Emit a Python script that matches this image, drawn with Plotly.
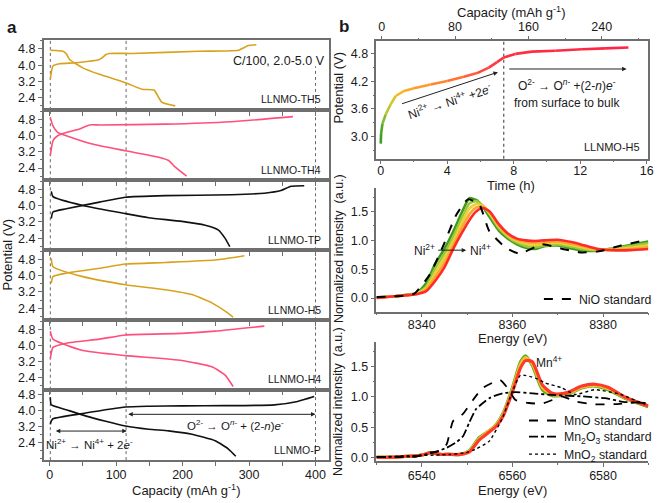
import plotly.graph_objects as go

# ---------------- Panel a : charge / discharge profiles ----------------
samples = ["LLNMO-TH5", "LLNMO-TH4", "LLNMO-TP", "LLNMO-H5", "LLNMO-H4", "LLNMO-P"]
sample_colors = ["#D9A21E", "#FF4F7B", "#111111", "#D9A21E", "#FF4F7B", "#111111"]

th5_chg_cap = [1, 5, 15, 40, 75, 85, 90, 124, 224, 284, 299, 311]
th5_chg_v = [3.31, 3.96, 4.07, 4.12, 4.28, 4.53, 4.58, 4.58, 4.69, 4.74, 4.97, 5.01]
th5_dis_cap = [1, 20, 25, 30, 50, 75, 114, 139, 157, 164, 169, 189]
th5_dis_v = [4.74, 4.69, 4.56, 4.28, 3.87, 3.55, 3.14, 2.82, 2.78, 2.41, 2.17, 2.0]

th4_chg_cap = [1, 5, 12, 25, 44, 60, 75, 174, 273, 366]
th4_chg_v = [3.01, 3.74, 3.99, 4.15, 4.31, 4.52, 4.52, 4.56, 4.68, 4.93]
th4_dis_cap = [1, 5, 12, 25, 64, 114, 164, 179, 189, 206]
th4_dis_v = [4.88, 4.47, 4.15, 3.99, 3.58, 3.25, 2.93, 2.77, 2.44, 2.0]

tp_chg_cap = [2.5, 5, 25, 75, 114, 174, 273, 323, 348, 363, 383]
tp_chg_v = [3.37, 3.69, 3.85, 4.18, 4.42, 4.50, 4.54, 4.62, 4.75, 4.96, 4.99]
tp_dis_cap = [2.5, 5, 50, 114, 149, 199, 234, 254, 264, 271]
tp_dis_v = [4.71, 4.45, 4.01, 3.61, 3.41, 3.23, 3.04, 2.80, 2.39, 1.98]

h5_chg_cap = [2.5, 5, 25, 75, 114, 174, 249, 293]
h5_chg_v = [3.64, 3.96, 4.13, 4.37, 4.58, 4.66, 4.78, 4.99]
h5_dis_cap = [2.5, 5, 50, 114, 174, 214, 244, 264, 276]
h5_dis_v = [4.86, 4.45, 3.96, 3.56, 3.31, 3.07, 2.66, 2.25, 1.96]

h4_chg_cap = [1, 5, 25, 75, 114, 199, 249, 323]
h4_chg_v = [3.34, 3.91, 4.12, 4.32, 4.53, 4.61, 4.72, 4.97]
h4_dis_cap = [1, 5, 50, 114, 199, 244, 264, 276]
h4_dis_v = [4.72, 4.32, 3.75, 3.50, 3.26, 2.94, 2.53, 1.96]

p_chg_cap = [1, 2.5, 5, 50, 114, 149, 200, 264, 338, 373, 398]
p_chg_v = [3.30, 3.47, 3.58, 3.84, 4.16, 4.20, 4.22, 4.23, 4.27, 4.44, 4.68]
p_dis_cap = [1, 2.5, 25, 55, 114, 149, 179, 214, 249, 269, 280]
p_dis_v = [4.65, 4.27, 4.03, 3.71, 3.22, 3.06, 2.98, 2.81, 2.49, 2.08, 1.72]

charge_caps = [th5_chg_cap, th4_chg_cap, tp_chg_cap, h5_chg_cap, h4_chg_cap, p_chg_cap]
charge_vs = [th5_chg_v, th4_chg_v, tp_chg_v, h5_chg_v, h4_chg_v, p_chg_v]
dis_caps = [th5_dis_cap, th4_dis_cap, tp_dis_cap, h5_dis_cap, h4_dis_cap, p_dis_cap]
dis_vs = [th5_dis_v, th4_dis_v, tp_dis_v, h5_dis_v, h4_dis_v, p_dis_v]

boundary_caps = [1, 115, 400]
cap_ticks = [0, 50, 100, 150, 200, 250, 300, 350, 400]
cap_ticktext = ["0", "", "100", "", "200", "", "300", "", "400"]
pot_ticks = [2.4, 3.2, 4.0, 4.8]
pot_ticktext = ["2.4", "3.2", "4.0", "4.8"]

# ---------------- Panel b top : charge curve of LLNMO-H5 ----------------
h5_time = [0, 0.02, 0.1, 0.3, 0.6, 0.9, 1.4, 2.0, 3.0, 4.0, 5.0, 5.8, 6.5, 7.0, 7.4, 8.1, 9.1, 10.5, 12.1, 13.5, 14.9]
h5_pot = [2.84, 3.05, 3.27, 3.48, 3.70, 3.88, 3.99, 4.05, 4.13, 4.21, 4.30, 4.38, 4.50, 4.62, 4.72, 4.80, 4.85, 4.87, 4.90, 4.92, 4.94]
ni_boundary_time = 7.4
time_ticks = [0, 4, 8, 12, 16]
topcap_ticks = [0, 80, 160, 240]
pot_b_ticks = [3.0, 3.6, 4.2, 4.8]

# ---------------- Panel b middle : Ni K-edge ----------------
ni_e = [8330, 8334, 8337, 8339, 8341, 8343, 8345, 8347, 8349, 8350.5, 8352, 8353.5, 8355,
        8357, 8359, 8361, 8363, 8365, 8367, 8370, 8373, 8376, 8379, 8382, 8386, 8390]
ni_green = [0.01, 0.03, 0.06, 0.09, 0.26, 0.60, 0.85, 1.16, 1.51, 1.73, 1.70, 1.58, 1.40,
            1.17, 1.03, 0.93, 0.87, 0.85, 0.90, 0.91, 0.86, 0.82, 0.82, 0.86, 0.92, 0.98]
ni_ygreen = [0.01, 0.03, 0.06, 0.08, 0.20, 0.52, 0.77, 1.07, 1.42, 1.64, 1.68, 1.60, 1.45,
             1.21, 1.06, 0.96, 0.90, 0.88, 0.91, 0.93, 0.89, 0.84, 0.83, 0.85, 0.90, 0.95]
ni_yellow = [0.00, 0.03, 0.05, 0.08, 0.17, 0.44, 0.69, 0.99, 1.33, 1.55, 1.63, 1.60, 1.47,
             1.24, 1.08, 0.99, 0.94, 0.92, 0.94, 0.96, 0.92, 0.87, 0.84, 0.84, 0.87, 0.91]
ni_orange = [0.00, 0.03, 0.05, 0.07, 0.15, 0.37, 0.61, 0.92, 1.24, 1.45, 1.57, 1.58, 1.49,
             1.26, 1.10, 1.01, 0.97, 0.96, 0.97, 0.98, 0.94, 0.89, 0.84, 0.83, 0.85, 0.88]
ni_red = [0.00, 0.03, 0.05, 0.07, 0.12, 0.30, 0.53, 0.86, 1.15, 1.35, 1.50, 1.56, 1.50,
          1.28, 1.12, 1.03, 1.00, 0.99, 1.00, 1.01, 0.97, 0.91, 0.85, 0.83, 0.83, 0.85]
nio_e = [8330, 8334, 8338.2, 8341.8, 8344.7, 8347.6, 8350.2, 8352.7, 8354.9, 8358.6, 8361.5,
         8366.6, 8371.7, 8375.3, 8379, 8384, 8389.8]
nio_v = [0.02, 0.03, 0.07, 0.41, 0.90, 1.44, 1.71, 1.62, 1.16, 0.87, 0.77, 0.93, 0.84, 0.79,
         0.81, 0.91, 1.01]
ni_xticks = [8340, 8360, 8380]
norm_ticks = [0.0, 0.5, 1.0, 1.5]

# ---------------- Panel b bottom : Mn K-edge ----------------
mn_e = [6530, 6535, 6540, 6542, 6544, 6546, 6548.5, 6550.5, 6552.7, 6554.9, 6556.5, 6558, 6560,
        6561.8, 6562.9, 6564.4, 6566.6, 6568.8, 6570.5, 6572.4, 6575.3, 6578.2, 6581.1, 6584.8, 6590]
mn_green = [0, 0.01, 0.04, 0.08, 0.05, 0.05, 0.05, 0.11, 0.33, 0.44, 0.55, 0.74, 1.15, 1.58, 1.68,
            1.52, 1.12, 1.02, 1.02, 1.05, 1.15, 1.18, 1.12, 0.98, 0.84]
mn_yellow = [0, 0.01, 0.04, 0.08, 0.05, 0.05, 0.05, 0.10, 0.31, 0.44, 0.54, 0.72, 1.12, 1.54, 1.65,
             1.55, 1.16, 1.04, 1.03, 1.06, 1.16, 1.19, 1.14, 0.99, 0.85]
mn_red = [0, 0.01, 0.04, 0.08, 0.05, 0.05, 0.05, 0.09, 0.29, 0.42, 0.52, 0.69, 1.08, 1.48, 1.60,
          1.58, 1.20, 1.06, 1.05, 1.08, 1.18, 1.21, 1.16, 1.00, 0.85]
mno_e = [6530, 6538.9, 6541.8, 6544, 6545.5, 6546.9, 6549.1, 6551.3, 6553.5, 6557.3, 6558.9,
         6560.7, 6563.6, 6566.6, 6568.8, 6570.9, 6573.8, 6577.5, 6582.5, 6589.8]
mno_v = [0.01, 0.02, 0.08, 0.11, 0.22, 0.60, 0.72, 0.95, 1.15, 1.28, 1.15, 0.95, 0.90, 0.89, 0.95,
         1.01, 0.93, 0.88, 0.88, 0.93]
mn2o3_e = [6530, 6538.9, 6542.6, 6545.5, 6547.6, 6549.1, 6550.5, 6552, 6554.9, 6557.8, 6560.7,
           6564.4, 6569.5, 6575.3, 6580.4, 6584.4, 6589.8]
mn2o3_v = [0.01, 0.02, 0.08, 0.16, 0.25, 0.35, 0.58, 0.80, 0.98, 1.06, 1.08, 1.06, 1.03, 1.01,
           0.98, 0.92, 0.90]
mno2_e = [6530, 6546.2, 6549.8, 6552, 6554.9, 6557.8, 6560, 6561.8, 6565.1, 6567.3, 6570.9,
          6573.8, 6578.2, 6584, 6588.4, 6589.8]
mno2_v = [0.01, 0.05, 0.08, 0.14, 0.27, 0.65, 1.09, 1.36, 1.31, 1.23, 1.15, 1.04, 1.12, 1.04,
          0.90, 0.87]
mn_xticks = [6540, 6560, 6580]

# ---------------- styling helpers ----------------
W, H = 661, 503
FONT = "Liberation Sans, Arial, sans-serif"
AX = "#6f6f6f"
TXT = "#1a1a1a"
TF = dict(family=FONT, size=12.5, color=TXT)


def px(x):
    return x / W


def py(y):
    return 1 - y / H


fig = go.Figure()

# ---- panel a layout ----
A_X = [px(44), px(332)]
a_edges = [38, 109, 180, 250.8, 321.5, 391.6, 462.7]
a_ranges = [[1.8, 5.26]] * 5 + [[1.53, 5.02]]

layout_axes = {}
for i in range(6):
    xn = "x" if i == 0 else f"x{i + 1}"
    yn = "y" if i == 0 else f"y{i + 1}"
    xkey = "xaxis" if i == 0 else f"xaxis{i + 1}"
    ykey = "yaxis" if i == 0 else f"yaxis{i + 1}"
    last = i == 5
    layout_axes[xkey] = dict(
        domain=A_X, anchor=yn, range=[-9, 421], tickmode="array", tickvals=cap_ticks,
        ticktext=cap_ticktext, showticklabels=last, ticks="outside", ticklen=4,
        tickcolor=AX, tickwidth=1, showline=True, linecolor=AX, linewidth=1.5, mirror=True,
        showgrid=False, zeroline=False, tickfont=TF, ticklabelstandoff=-2)
    layout_axes[ykey] = dict(
        domain=[py(a_edges[i + 1]), py(a_edges[i])], anchor=xn, range=a_ranges[i],
        tickmode="array", tickvals=pot_ticks, ticktext=pot_ticktext, ticks="outside",
        ticklen=4, tickcolor=AX, showline=True, linecolor=AX, linewidth=1.5, mirror=True,
        showgrid=False, zeroline=False, tickfont=TF,
        minor=dict(tickmode="linear", tick0=0, dtick=0.4, ticks="outside", ticklen=2,
                   tickcolor=AX))
    fig.add_trace(go.Scatter(x=charge_caps[i], y=charge_vs[i], mode="lines", xaxis=xn, yaxis=yn,
                             line=dict(color=sample_colors[i], width=1.6, shape="spline",
                                       smoothing=0.5), showlegend=False))
    fig.add_trace(go.Scatter(x=dis_caps[i], y=dis_vs[i], mode="lines", xaxis=xn, yaxis=yn,
                             line=dict(color=sample_colors[i], width=1.6, shape="spline",
                                       smoothing=0.5), showlegend=False))

# ---- panel b top ----
B_X = [px(379.3), px(653.3)]
layout_axes["xaxis7"] = dict(
    domain=B_X, anchor="y7", range=[-0.26, 16.1], tickvals=time_ticks, ticks="outside",
    ticklen=4, tickcolor=AX, showline=True, linecolor=AX, linewidth=1.5, mirror=True,
    showgrid=False, zeroline=False, tickfont=TF, ticklabelstandoff=-4,
    minor=dict(tickmode="linear", tick0=0, dtick=2, ticks="outside", ticklen=2, tickcolor=AX))
layout_axes["xaxis8"] = dict(
    overlaying="x7", side="top", anchor="y7", range=[-5.7, 290.8], tickvals=topcap_ticks,
    ticks="outside", ticklen=4, tickcolor=AX, showline=False, showgrid=False, zeroline=False,
    tickfont=TF,
    minor=dict(tickmode="linear", tick0=0, dtick=40, ticks="outside", ticklen=2, tickcolor=AX))
layout_axes["yaxis7"] = dict(
    domain=[py(158.3), py(39)], anchor="x7", range=[2.51, 5.09], tickvals=pot_b_ticks,
    tickformat=".1f", ticks="outside", ticklen=4, tickcolor=AX, showline=True, linecolor=AX,
    linewidth=1.5, mirror=True, showgrid=False, zeroline=False, tickfont=TF,
    minor=dict(tickmode="linear", tick0=0, dtick=0.3, ticks="outside", ticklen=2, tickcolor=AX))

color_stops = [(0.0, (58, 157, 35)), (0.3, (168, 200, 58)), (0.9, (240, 192, 42)),
               (2.5, (255, 154, 46)), (5.0, (255, 106, 53)), (7.0, (255, 48, 64)),
               (16.0, (255, 34, 68))]


def grad_color(t):
    for (t0, c0), (t1, c1) in zip(color_stops[:-1], color_stops[1:]):
        if t <= t1:
            f = (t - t0) / (t1 - t0) if t1 > t0 else 0
            c = [round(a + (b - a) * f) for a, b in zip(c0, c1)]
            return f"rgb({c[0]},{c[1]},{c[2]})"
    c = color_stops[-1][1]
    return f"rgb({c[0]},{c[1]},{c[2]})"


for k in range(len(h5_time) - 1):
    mid = 0.5 * (h5_time[k] + h5_time[k + 1])
    fig.add_trace(go.Scatter(x=h5_time[k:k + 2], y=h5_pot[k:k + 2], mode="lines", xaxis="x7",
                             yaxis="y7", line=dict(color=grad_color(mid), width=2.6),
                             showlegend=False, hoverinfo="skip"))
fig.add_trace(go.Scatter(x=[], y=[], xaxis="x8", yaxis="y7", showlegend=False))

# ---- panel b middle (Ni K-edge) ----
open_axis = dict(ticks="outside", ticklen=4, tickcolor=AX, showline=True, linecolor=AX,
                 linewidth=1.5, mirror=False, showgrid=False, zeroline=False, tickfont=TF)
layout_axes["xaxis9"] = dict(domain=B_X, anchor="y9", range=[8330, 8390], tickvals=ni_xticks,
                             ticklabelstandoff=-3,
                             minor=dict(tickmode="linear", tick0=8330, dtick=10, ticks="outside",
                                        ticklen=2, tickcolor=AX), **open_axis)
layout_axes["yaxis9"] = dict(domain=[py(312.7), py(188.3)], anchor="x9", range=[-0.235, 1.9],
                             tickvals=norm_ticks, tickformat=".1f",
                             minor=dict(tickmode="linear", tick0=0, dtick=0.25, ticks="outside",
                                        ticklen=2, tickcolor=AX), **open_axis)

ni_series = [ni_green, ni_ygreen, ni_yellow, ni_orange, ni_red]
ni_colors = ["#3E9B1F", "#9CC83A", "#E6D33A", "#FFA52E", "#FF2A2A"]
for vals, col in zip(ni_series, ni_colors):
    fig.add_trace(go.Scatter(x=ni_e, y=vals, mode="lines", xaxis="x9", yaxis="y9",
                             line=dict(color=col, width=2.6, shape="spline", smoothing=0.6),
                             showlegend=False))
fig.add_trace(go.Scatter(x=nio_e, y=nio_v, mode="lines", xaxis="x9", yaxis="y9",
                         name="NiO standard", legend="legend",
                         line=dict(color="black", width=2, dash="dash", shape="spline",
                                   smoothing=0.5)))

# ---- panel b bottom (Mn K-edge) ----
layout_axes["xaxis10"] = dict(domain=B_X, anchor="y10", range=[6530, 6590], tickvals=mn_xticks,
                              ticklabelstandoff=-2,
                              minor=dict(tickmode="linear", tick0=6530, dtick=10,
                                         ticks="outside", ticklen=2, tickcolor=AX), **open_axis)
layout_axes["yaxis10"] = dict(domain=[py(464), py(343.3)], anchor="x10", range=[-0.065, 1.91],
                              tickvals=norm_ticks, tickformat=".1f",
                              minor=dict(tickmode="linear", tick0=0, dtick=0.25, ticks="outside",
                                         ticklen=2, tickcolor=AX), **open_axis)

for vals, col in zip([mn_green, mn_yellow, mn_red], ["#5DAF22", "#F2C230", "#FF3A2A"]):
    fig.add_trace(go.Scatter(x=mn_e, y=vals, mode="lines", xaxis="x10", yaxis="y10",
                             line=dict(color=col, width=3.2, shape="spline", smoothing=0.6),
                             showlegend=False))
fig.add_trace(go.Scatter(x=mno_e, y=mno_v, mode="lines", xaxis="x10", yaxis="y10",
                         name="MnO standard", legend="legend2",
                         line=dict(color="black", width=1.8, dash="dash", shape="spline",
                                   smoothing=0.5)))
fig.add_trace(go.Scatter(x=mn2o3_e, y=mn2o3_v, mode="lines", xaxis="x10", yaxis="y10",
                         name="Mn<sub>2</sub>O<sub>3</sub> standard", legend="legend3",
                         line=dict(color="black", width=1.8, dash="dashdot", shape="spline",
                                   smoothing=0.5)))
fig.add_trace(go.Scatter(x=mno2_e, y=mno2_v, mode="lines", xaxis="x10", yaxis="y10",
                         name="MnO<sub>2</sub> standard", legend="legend4",
                         line=dict(color="black", width=1.4, dash="dot", shape="spline",
                                   smoothing=0.5)))

# ---- shapes: dotted boundary lines ----
shapes = []
for i in range(6):
    xn = "x" if i == 0 else f"x{i + 1}"
    yn = "y" if i == 0 else f"y{i + 1}"
    for c in boundary_caps:
        top = 0.62 if (i == 0 and c == boundary_caps[-1]) else 1
        shapes.append(dict(type="line", xref=xn, yref=f"{yn} domain", x0=c, x1=c, y0=0, y1=top,
                           line=dict(color="#666", width=1, dash="dot"), layer="below"))
shapes.append(dict(type="line", xref="x7", yref="y7 domain", x0=ni_boundary_time,
                   x1=ni_boundary_time, y0=0, y1=1,
                   line=dict(color="#555", width=1.2, dash="dot"), layer="below"))

# ---- annotations ----
ann = []


def text(x, y, s, size=12.5, xref="paper", yref="paper", xanchor="center", yanchor="middle",
         angle=0, bold=False):
    ann.append(dict(x=x, y=y, xref=xref, yref=yref, text=f"<b>{s}</b>" if bold else s,
                    showarrow=False, xanchor=xanchor, yanchor=yanchor, textangle=angle,
                    font=dict(family=FONT, size=size, color=TXT)))


def arrow(x0, x1, y0, y1, xr, yr, both=False):
    ann.append(dict(x=x1, y=y1, ax=x0, ay=y0, xref=xr, yref=yr, axref=xr, ayref=yr, text="",
                    showarrow=True, arrowhead=2, arrowsize=0.9, arrowwidth=1,
                    arrowcolor="#222", arrowside="end+start" if both else "end",
                    startarrowhead=2, startarrowsize=0.9))


for i, name in enumerate(samples):
    yn = "y" if i == 0 else f"y{i + 1}"
    xn = "x" if i == 0 else f"x{i + 1}"
    text(0.979, 0.15, name, size=10.5, xref=f"{xn} domain", yref=f"{yn} domain",
         xanchor="right")
text(0.993, 0.70, "C/100, 2.0-5.0 V", size=12.5, xref="x domain", yref="y domain",
     xanchor="right")

arrow(7, 116, 2.97, 2.97, "x6", "y6", both=True)
arrow(116, 400, 3.80, 3.80, "x6", "y6", both=True)
text(60, 2.31, "Ni<sup>2+</sup> → Ni<sup>4+</sup> + 2<i>e</i><sup>-</sup>", size=11.5,
     xref="x6", yref="y6")
text(279, 3.27, "O<sup>2-</sup> → O<sup><i>n</i>-</sup> + (2-<i>n</i>)<i>e</i><sup>-</sup>",
     size=11.5, xref="x6", yref="y6")

arrow(1.19, 7.05, 3.70, 4.40, "x7", "y7")
arrow(7.64, 14.79, 4.47, 4.47, "x7", "y7")
text(4.15, 3.77, "Ni<sup>2+</sup> → Ni<sup>4+</sup> +2<i>e</i><sup>-</sup>", size=12,
     xref="x7", yref="y7", angle=-18)
text(11.2, 4.13, "O<sup>2-</sup> → O<sup><i>n</i>-</sup> +(2-<i>n</i>)<i>e</i><sup>-</sup>",
     size=12, xref="x7", yref="y7")
text(11.2, 3.73, "from surface to bulk", size=12, xref="x7", yref="y7")
text(0.975, 0.10, "LLNMO-H5", size=11, xref="x7 domain", yref="y7 domain", xanchor="right")

text(8340.5, 0.84, "Ni<sup>2+</sup>", size=12, xref="x9", yref="y9")
text(8352.9, 0.84, "Ni<sup>4+</sup>", size=12, xref="x9", yref="y9")
arrow(8343.3, 8349.8, 0.83, 0.83, "x9", "y9")
text(6568, 1.58, "Mn<sup>4+</sup>", size=12, xref="x10", yref="y10")

# axis titles and panel letters
text(px(12), py(26), "a", size=17, bold=True)
text(px(347), py(25), "b", size=17, bold=True)
text(px(8), py(255), "Potential (V)", size=13, angle=-90)
text(px(187.5), py(493), "Capacity (mAh g<sup>-1</sup>)", size=13)
text(px(515.8), py(10), "Capacity (mAh g<sup>-1</sup>)", size=13)
text(px(341), py(86), "Potential (V)", size=13, angle=-90)
text(px(515), py(185.5), "Time (h)", size=13)
text(px(341), py(249), "Normalized intensity  (a.u.)", size=12.5, angle=-90)
text(px(516.7), py(339.5), "Energy (eV)", size=13)
text(px(341), py(403.5), "Normalized intensity  (a.u.)", size=12.5, angle=-90)
text(px(516.7), py(493), "Energy (eV)", size=13)

leg_common = dict(xanchor="left", yanchor="middle", bgcolor="rgba(0,0,0,0)",
                  font=dict(family=FONT, size=12.3, color=TXT), itemwidth=30,
                  tracegroupgap=0, borderwidth=0)

fig.update_layout(
    width=W, height=H, margin=dict(l=0, r=0, t=0, b=0),
    paper_bgcolor="white", plot_bgcolor="white",
    font=dict(family=FONT, size=12.5, color=TXT),
    shapes=shapes, annotations=ann,
    legend=dict(x=px(543), y=py(300), **leg_common),
    legend2=dict(x=px(528), y=py(422.7), **leg_common),
    legend3=dict(x=px(528), y=py(439), **leg_common),
    legend4=dict(x=px(528), y=py(456.7), **leg_common),
    **layout_axes,
)

fig.write_html("out.html")
